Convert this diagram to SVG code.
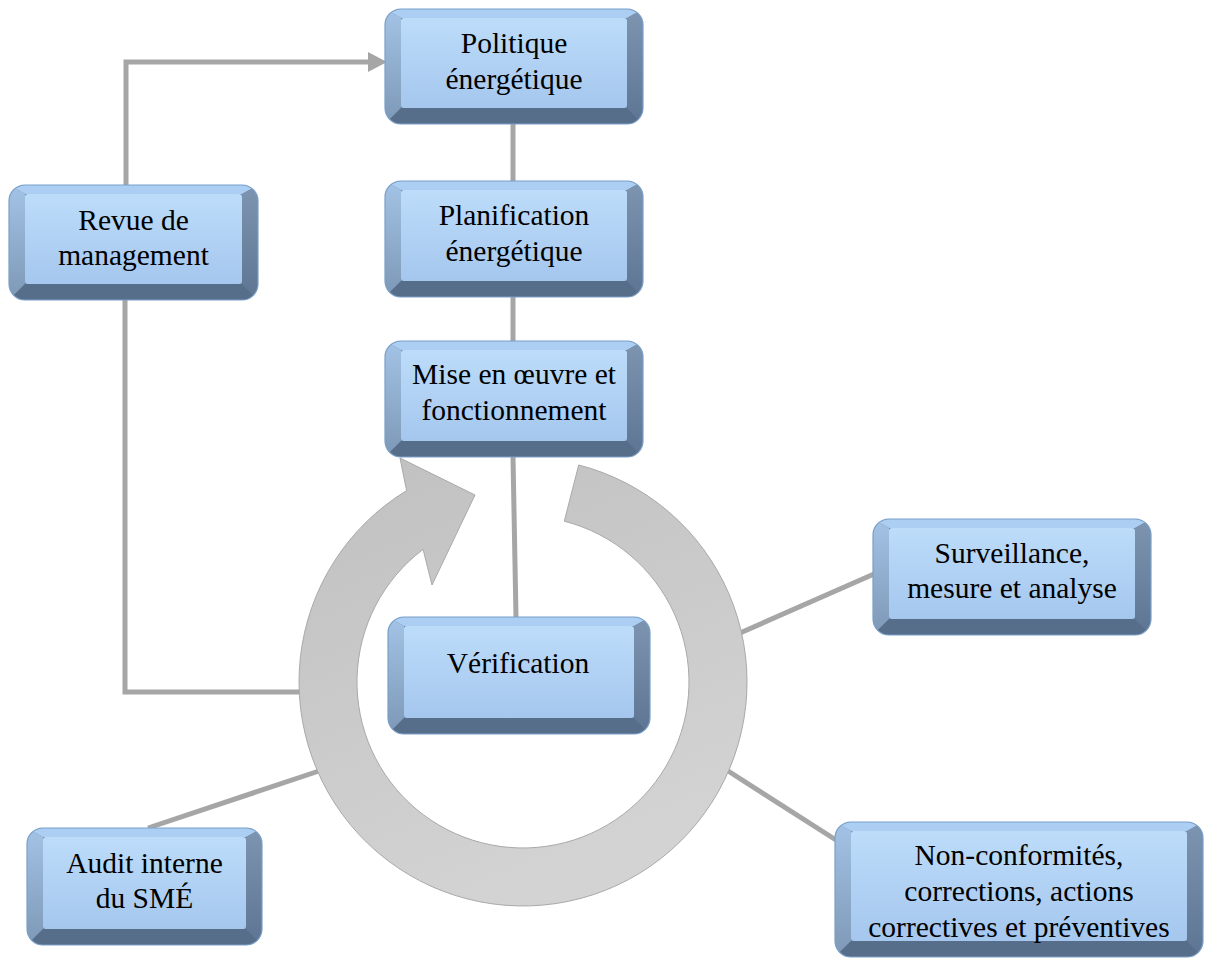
<svg xmlns="http://www.w3.org/2000/svg" width="1206" height="958" viewBox="0 0 1206 958">
<style>
text{font-family:'Liberation Serif','Times New Roman',Tinos,'DejaVu Serif',serif;font-size:29.5px;fill:#000;text-anchor:middle}
.conn{stroke:#a6a6a6;stroke-width:5;fill:none}
.out{fill:#6a829e}
.tb{fill:#abcef2}
.lb{fill:url(#lbev)}
.rb{fill:url(#rbev)}
.bb{fill:#566e8a}
.face{fill:url(#face)}
.edge{fill:none;stroke:#7aa0c9;stroke-width:1.2}
</style>
<defs>
<linearGradient id="face" x1="0" y1="0" x2="0" y2="1"><stop offset="0" stop-color="#bddcfa"/><stop offset="1" stop-color="#a5c7ee"/></linearGradient>
<linearGradient id="lbev" x1="0" y1="0" x2="0" y2="1"><stop offset="0" stop-color="#a3c3e6"/><stop offset="1" stop-color="#7e98b6"/></linearGradient>
<linearGradient id="rbev" x1="0" y1="0" x2="0" y2="1"><stop offset="0" stop-color="#7d95b1"/><stop offset="1" stop-color="#5d7592"/></linearGradient>
<linearGradient id="ring" x1="0" y1="0" x2="0.4" y2="1"><stop offset="0" stop-color="#c0c0c0"/><stop offset="1" stop-color="#d3d3d3"/></linearGradient>
<clipPath id="c1"><rect x="385" y="9" width="258" height="115" rx="16"/></clipPath>
<clipPath id="c2"><rect x="385" y="181" width="258" height="116" rx="16"/></clipPath>
<clipPath id="c3"><rect x="385" y="341" width="258" height="116" rx="16"/></clipPath>
<clipPath id="c4"><rect x="388" y="617" width="262" height="117" rx="16"/></clipPath>
<clipPath id="c5"><rect x="9" y="185" width="249" height="115" rx="16"/></clipPath>
<clipPath id="c6"><rect x="873" y="519" width="278" height="116" rx="16"/></clipPath>
<clipPath id="c7"><rect x="27" y="828" width="235" height="117" rx="16"/></clipPath>
<clipPath id="c8"><rect x="835" y="822" width="368" height="135" rx="16"/></clipPath>
</defs>

<g id="connectors">
<polyline class="conn" points="126,185 126,62 372,62"/>
<polygon points="368,52 387,62 368,72" fill="#a6a6a6"/>
<polyline class="conn" points="125,300 125,692 302,692"/>
<line class="conn" x1="513" y1="124" x2="513" y2="181"/>
<line class="conn" x1="513" y1="297" x2="513" y2="341"/>
<line class="conn" x1="513" y1="457" x2="516" y2="617"/>
<line class="conn" x1="148" y1="828" x2="322" y2="770"/>
<line class="conn" x1="740" y1="633" x2="874" y2="574"/>
<line class="conn" x1="725" y1="769" x2="836" y2="840"/>
</g>

<g id="cycle">
<path d="M406.6,490.6 A224,224 0 1 0 578.7,465 L564.3,521.2 A166,166 0 1 1 423.1,549.4 L432,585 L475,495 L400,458 Z" fill="url(#ring)" stroke="#a9a9a9" stroke-width="1"/>
</g>

<g id="n-politique">
<g clip-path="url(#c1)">
<rect class="out" x="385" y="9" width="258" height="115"/>
<polygon class="tb" points="385,9 643,9 627,18 401,18"/>
<polygon class="lb" points="385,9 401,18 401,108 385,124"/>
<polygon class="rb" points="643,9 643,124 627,108 627,18"/>
<polygon class="bb" points="385,124 401,108 627,108 643,124"/>
</g>
<rect class="face" x="401" y="18" width="226" height="90" rx="3"/>
<rect class="edge" x="385" y="9" width="258" height="115" rx="16"/>
<text x="514" y="53">Politique</text>
<text x="514" y="89">énergétique</text>
</g>

<g id="n-planification">
<g clip-path="url(#c2)">
<rect class="out" x="385" y="181" width="258" height="116"/>
<polygon class="tb" points="385,181 643,181 627,190 401,190"/>
<polygon class="lb" points="385,181 401,190 401,281 385,297"/>
<polygon class="rb" points="643,181 643,297 627,281 627,190"/>
<polygon class="bb" points="385,297 401,281 627,281 643,297"/>
</g>
<rect class="face" x="401" y="190" width="226" height="91" rx="3"/>
<rect class="edge" x="385" y="181" width="258" height="116" rx="16"/>
<text x="514" y="225">Planification</text>
<text x="514" y="261">énergétique</text>
</g>

<g id="n-mise">
<g clip-path="url(#c3)">
<rect class="out" x="385" y="341" width="258" height="116"/>
<polygon class="tb" points="385,341 643,341 627,350 401,350"/>
<polygon class="lb" points="385,341 401,350 401,441 385,457"/>
<polygon class="rb" points="643,341 643,457 627,441 627,350"/>
<polygon class="bb" points="385,457 401,441 627,441 643,457"/>
</g>
<rect class="face" x="401" y="350" width="226" height="91" rx="3"/>
<rect class="edge" x="385" y="341" width="258" height="116" rx="16"/>
<text x="514" y="384">Mise en œuvre et</text>
<text x="514" y="420">fonctionnement</text>
</g>

<g id="n-verification">
<g clip-path="url(#c4)">
<rect class="out" x="388" y="617" width="262" height="117"/>
<polygon class="tb" points="388,617 650,617 634,626 404,626"/>
<polygon class="lb" points="388,617 404,626 404,718 388,734"/>
<polygon class="rb" points="650,617 650,734 634,718 634,626"/>
<polygon class="bb" points="388,734 404,718 634,718 650,734"/>
</g>
<rect class="face" x="404" y="626" width="230" height="92" rx="3"/>
<rect class="edge" x="388" y="617" width="262" height="117" rx="16"/>
<text x="518" y="673">Vérification</text>
</g>

<g id="n-revue">
<g clip-path="url(#c5)">
<rect class="out" x="9" y="185" width="249" height="115"/>
<polygon class="tb" points="9,185 258,185 242,194 25,194"/>
<polygon class="lb" points="9,185 25,194 25,284 9,300"/>
<polygon class="rb" points="258,185 258,300 242,284 242,194"/>
<polygon class="bb" points="9,300 25,284 242,284 258,300"/>
</g>
<rect class="face" x="25" y="194" width="217" height="90" rx="3"/>
<rect class="edge" x="9" y="185" width="249" height="115" rx="16"/>
<text x="133.5" y="230">Revue de</text>
<text x="133.5" y="265">management</text>
</g>

<g id="n-surveillance">
<g clip-path="url(#c6)">
<rect class="out" x="873" y="519" width="278" height="116"/>
<polygon class="tb" points="873,519 1151,519 1135,528 889,528"/>
<polygon class="lb" points="873,519 889,528 889,619 873,635"/>
<polygon class="rb" points="1151,519 1151,635 1135,619 1135,528"/>
<polygon class="bb" points="873,635 889,619 1135,619 1151,635"/>
</g>
<rect class="face" x="889" y="528" width="246" height="91" rx="3"/>
<rect class="edge" x="873" y="519" width="278" height="116" rx="16"/>
<text x="1012" y="563">Surveillance,</text>
<text x="1012" y="598">mesure et analyse</text>
</g>

<g id="n-audit">
<g clip-path="url(#c7)">
<rect class="out" x="27" y="828" width="235" height="117"/>
<polygon class="tb" points="27,828 262,828 246,837 43,837"/>
<polygon class="lb" points="27,828 43,837 43,929 27,945"/>
<polygon class="rb" points="262,828 262,945 246,929 246,837"/>
<polygon class="bb" points="27,945 43,929 246,929 262,945"/>
</g>
<rect class="face" x="43" y="837" width="203" height="92" rx="3"/>
<rect class="edge" x="27" y="828" width="235" height="117" rx="16"/>
<text x="144.5" y="873">Audit interne</text>
<text x="144.5" y="908">du SMÉ</text>
</g>

<g id="n-nonconformites">
<g clip-path="url(#c8)">
<rect class="out" x="835" y="822" width="368" height="135"/>
<polygon class="tb" points="835,822 1203,822 1187,831 851,831"/>
<polygon class="lb" points="835,822 851,831 851,941 835,957"/>
<polygon class="rb" points="1203,822 1203,957 1187,941 1187,831"/>
<polygon class="bb" points="835,957 851,941 1187,941 1203,957"/>
</g>
<rect class="face" x="851" y="831" width="336" height="110" rx="3"/>
<rect class="edge" x="835" y="822" width="368" height="135" rx="16"/>
<text x="1019" y="865">Non-conformités,</text>
<text x="1019" y="901">corrections, actions</text>
<text x="1019" y="937">correctives et préventives</text>
</g>
</svg>
